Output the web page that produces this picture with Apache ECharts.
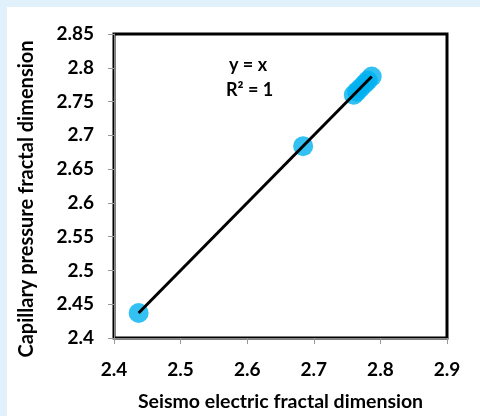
<!DOCTYPE html>
<html><head><meta charset="utf-8">
<script src="https://cdn.jsdelivr.net/npm/echarts@6/dist/echarts.min.js"></script>
<style>html,body{margin:0;padding:0;background:#e0f1fb;}#c{width:480px;height:416px;}</style>
</head><body><div id="c"></div>
<script>
const seismoElectric = [2.437, 2.684, 2.760, 2.765, 2.770, 2.776, 2.781, 2.787];
const capillaryPressure = [2.437, 2.684, 2.760, 2.765, 2.770, 2.776, 2.781, 2.787];
const fitLine = [[2.437, 2.437], [2.787, 2.787]];
const xTitle = 'Seismo electric fractal dimension';
const yTitle = 'Capillary pressure fractal dimension';
const eqText = ['y = x', 'R\u00B2 = 1'];

const FONT = 'Lato';
const chart = echarts.init(document.getElementById('c'), null, {renderer: 'canvas'});
chart.setOption({
  animation: false,
  backgroundColor: 'transparent',
  graphic: [
    {type: 'rect', z: -10, shape: {x: 7, y: 7, width: 473, height: 409}, style: {fill: '#ffffff'}},
    {type: 'text', left: 229, top: 56, style: {text: eqText[0], font: 'bold 18px ' + FONT, fill: '#000'}},
    {type: 'text', left: 226, top: 81, style: {text: eqText[1], font: 'bold 18px ' + FONT, fill: '#000'}}
  ],
  grid: {left: 114, right: 33, top: 34, bottom: 78, show: true, borderColor: '#000', borderWidth: 3,
         backgroundColor: 'transparent', containLabel: false, outerBoundsMode: 'none'},
  xAxis: {
    type: 'value', min: 2.4, max: 2.9, interval: 0.1,
    name: xTitle, nameLocation: 'middle', nameGap: 54,
    nameTextStyle: {fontFamily: FONT, fontWeight: 'bold', fontSize: 19.5, color: '#000'},
    axisLine: {show: true, onZero: false, lineStyle: {color: '#888', width: 1}},
    axisTick: {show: true, length: 6, inside: false, lineStyle: {color: '#999'}},
    axisLabel: {fontFamily: FONT, fontWeight: 'bold', fontSize: 19, color: '#000', margin: 22},
    splitLine: {show: false}
  },
  yAxis: {
    type: 'value', min: 2.4, max: 2.85, interval: 0.05,
    name: yTitle, nameLocation: 'middle', nameGap: 77, nameRotate: 90,
    nameTextStyle: {fontFamily: FONT, fontWeight: 'bold', fontSize: 20, color: '#000', padding: [0, 26, 0, 0]},
    axisLine: {show: true, onZero: false, lineStyle: {color: '#888', width: 1}},
    axisTick: {show: true, length: 6, inside: false, lineStyle: {color: '#999'}},
    axisLabel: {fontFamily: FONT, fontWeight: 'bold', fontSize: 19, color: '#000', margin: 20},
    splitLine: {show: false}
  },
  series: [
    {type: 'scatter', data: seismoElectric.map((x, i) => [x, capillaryPressure[i]]),
     symbol: 'circle', symbolSize: 20, itemStyle: {color: '#00b0f0'}, z: 2},
    {type: 'line', data: fitLine, showSymbol: false, symbol: 'none',
     lineStyle: {color: '#000', width: 3}, z: 3}
  ]
});
</script></body></html>
